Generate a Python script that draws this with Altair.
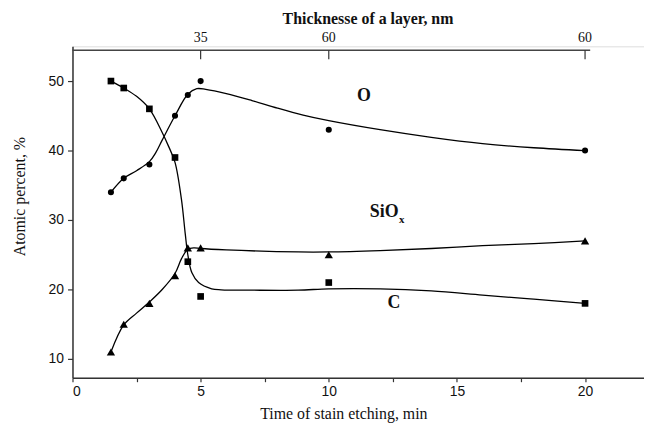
import altair as alt
import pandas as pd

# measured points
t_pts = [1.5, 2, 3, 4, 4.5, 5, 10, 20]
O_pts = [34, 36, 38, 45, 48, 50, 43, 40]
C_pts = [50, 49, 46, 39, 24, 19, 21, 18]
S_pts = [11, 15, 18, 22, 26, 26, 25, 27]

# fitted curves
cx_O = [1.5, 2, 2.5, 3, 3.25, 3.5, 4, 4.5, 4.85, 5.2, 6, 7, 8, 9, 10, 12, 14, 16, 18, 20]
cy_O = [34, 36, 37.1, 38.4, 39.7, 41.5, 45, 48.1, 48.9, 48.8, 48.2, 47.2, 46.1, 45.1, 44.3, 43.0, 41.9, 41.0, 40.4, 40.0]
cx_C = [1.5, 2, 2.5, 3, 3.5, 3.75, 4, 4.25, 4.4, 4.5, 4.66, 4.92, 5.43, 5.8, 7, 8.8, 10, 12, 14, 16, 18, 20]
cy_C = [50, 49, 47.8, 46, 42.6, 40.6, 38.3, 33, 28, 25, 22.4, 21.0, 20.1, 19.95, 19.9, 19.9, 20.1, 20.1, 19.8, 19.2, 18.6, 18]
cx_S = [1.5, 2, 2.5, 3, 3.5, 4, 4.25, 4.5, 4.75, 5, 6, 8.8, 10, 12, 14, 16, 18, 20]
cy_S = [11, 14.9, 16.6, 18.2, 20, 22.3, 24.4, 25.8, 26.0, 25.9, 25.7, 25.4, 25.4, 25.6, 25.9, 26.3, 26.6, 27]

# top axis (thickness)
top_x = [5, 10, 20]
top_lbl = ["35", "60", "60"]
top_line_x = [0, 20.2]
top_line_y = 54.43

# series labels
lab_x = [11.37, 12.54]
lab_y = [47.9, 18.0]
lab_t = ["O", "C"]

X_DOM = [0, 22.3]
Y_DOM = [7.3, 55]

xs = alt.Scale(domain=X_DOM, nice=False, zero=False)
ys = alt.Scale(domain=Y_DOM, nice=False, zero=False)

pts = pd.DataFrame({
    "t": t_pts * 3,
    "v": O_pts + C_pts + S_pts,
    "s": ["O"] * 8 + ["C"] * 8 + ["S"] * 8,
})
curves = pd.DataFrame({
    "t": cx_O + cx_C + cx_S,
    "v": cy_O + cy_C + cy_S,
    "s": ["O"] * len(cx_O) + ["C"] * len(cx_C) + ["S"] * len(cx_S),
})

xax = alt.Axis(
    values=[0, 2.5, 5, 7.5, 10, 12.5, 15, 17.5, 20],
    labelExpr="datum.value % 5 == 0 ? datum.label : ''",
    grid=False, tickSize=4, labelPadding=3,
    labelFont="Liberation Sans", labelFontSize=14, labelColor="#111",
    domainColor="#333", domainWidth=1.5, tickColor="#333", tickWidth=1.2,
    title="Time of stain etching, min", titleFont="Liberation Serif",
    titleFontSize=16, titleFontWeight="normal", titleColor="#111",
    titleX=273, titleY=36, titleBaseline="middle", titleAlign="center",
)
yax = alt.Axis(
    values=[10, 15, 20, 25, 30, 35, 40, 45, 50, 55],
    labelExpr="datum.value % 10 == 0 && datum.value < 55 ? datum.label : ''",
    grid=False, tickSize=5, labelPadding=4,
    labelFont="Liberation Sans", labelFontSize=14, labelColor="#111",
    domainColor="#333", domainWidth=1.5, tickColor="#333", tickWidth=1.2,
    title="Atomic percent,  %", titleFont="Liberation Serif",
    titleFontSize=16, titleFontWeight="normal", titleColor="#111",
    titleX=-53, titleY=151, titleAngle=-90, titleBaseline="middle", titleAlign="center",
)

base_pts = alt.Chart(pts)

lines = alt.Chart(curves).mark_line(interpolate="catmull-rom", color="black", strokeWidth=1.3).encode(
    x=alt.X("t:Q", scale=xs, axis=xax),
    y=alt.Y("v:Q", scale=ys, axis=yax),
    detail="s:N",
)

circles = base_pts.transform_filter("datum.s == 'O'").mark_point(
    shape="circle", filled=True, color="black", size=38, opacity=1
).encode(x=alt.X("t:Q", scale=xs), y=alt.Y("v:Q", scale=ys))
squares = base_pts.transform_filter("datum.s == 'C'").mark_point(
    shape="square", filled=True, color="black", size=45, opacity=1
).encode(x=alt.X("t:Q", scale=xs), y=alt.Y("v:Q", scale=ys))
tris = base_pts.transform_filter("datum.s == 'S'").mark_point(
    shape="triangle-up", filled=True, color="black", size=70, opacity=1
).encode(x=alt.X("t:Q", scale=xs), y=alt.Y("v:Q", scale=ys))

labels = alt.Chart(pd.DataFrame({"x": lab_x, "y": lab_y, "t": lab_t})).mark_text(
    font="Liberation Serif", fontSize=18, fontWeight="bold", color="#111"
).encode(x=alt.X("x:Q", scale=xs), y=alt.Y("y:Q", scale=ys), text="t:N")

sio = alt.Chart(pd.DataFrame({"x": [12.16], "y": [31.1], "t": ["SiO"]})).mark_text(
    font="Liberation Serif", fontSize=18, fontWeight="bold", color="#111"
).encode(x=alt.X("x:Q", scale=xs), y=alt.Y("y:Q", scale=ys), text="t:N")
sub = alt.Chart(pd.DataFrame({"x": [12.85], "y": [29.95], "t": ["x"]})).mark_text(
    font="Liberation Serif", fontSize=11, fontWeight="bold", color="#111"
).encode(x=alt.X("x:Q", scale=xs), y=alt.Y("y:Q", scale=ys), text="t:N")

# top axis
top_line = alt.Chart(pd.DataFrame({"x": [top_line_x[0]], "x2": [top_line_x[1]], "y": [top_line_y]})).mark_rule(
    color="#444", strokeWidth=1.5
).encode(x=alt.X("x:Q", scale=xs), x2="x2:Q", y=alt.Y("y:Q", scale=ys))
top_df = pd.DataFrame({"x": top_x, "y": [top_line_y] * 3, "y2": [top_line_y - 1.3] * 3,
                       "ly": [56.15] * 3, "l": top_lbl})
top_ticks = alt.Chart(top_df).mark_rule(color="#333", strokeWidth=1.2).encode(
    x=alt.X("x:Q", scale=xs), y=alt.Y("y:Q", scale=ys), y2="y2:Q"
)
top_labels = alt.Chart(top_df).mark_text(
    font="Liberation Serif", fontSize=14, color="#111", baseline="middle"
).encode(x=alt.X("x:Q", scale=xs), y=alt.Y("ly:Q", scale=ys), text="l:N")
top_title = alt.Chart(pd.DataFrame({"x": [11.53], "y": [59.0], "t": ["Thicknesse of a layer, nm"]})).mark_text(
    font="Liberation Serif", fontSize=16, fontWeight="bold", color="#111", baseline="middle"
).encode(x=alt.X("x:Q", scale=xs), y=alt.Y("y:Q", scale=ys), text="t:N")

chart = alt.layer(
    lines, circles, squares, tris, labels, sio, sub,
    top_line, top_ticks, top_labels, top_title,
).properties(
    width=576, height=334,
    autosize=alt.AutoSizeParams(type="none"),
    padding={"left": 65, "top": 37, "right": 0, "bottom": 44},
).configure_view(stroke=None).configure(background="white")

chart.save("out.html", embed_options={"renderer": "svg", "actions": False})
